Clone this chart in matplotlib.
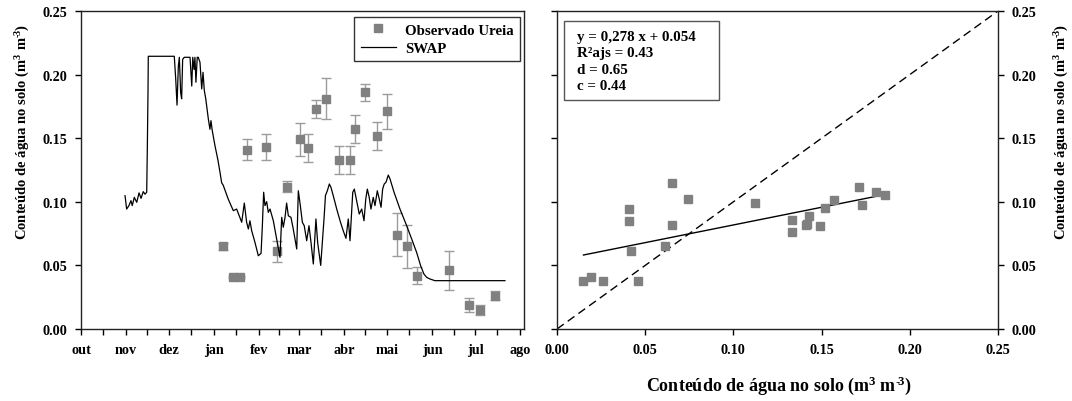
import matplotlib
matplotlib.use("Agg")
import matplotlib.pyplot as plt
from matplotlib.lines import Line2D
from matplotlib.patches import Rectangle
from matplotlib.ticker import FixedLocator, FormatStrFormatter

plt.rcParams['font.family'] = ['Liberation Serif', 'DejaVu Serif']
plt.rcParams['font.weight'] = 'bold'
plt.rcParams['mathtext.fontset'] = 'custom'
plt.rcParams['mathtext.rm'] = 'Liberation Serif:bold'
plt.rcParams['mathtext.it'] = 'Liberation Serif:bold'
plt.rcParams['mathtext.bf'] = 'Liberation Serif:bold'

# SWAP simulated soil water content, x in days since 1 October
swap_day = [30.5, 31.6, 33.2, 34.6, 35.5, 36.9, 38.6, 40.2, 41.6, 43.1, 44.3, 45.5,
            45.9, 46.4, 46.6, 64.6, 65.6, 66.5, 67.4, 68.1, 69.0, 69.7, 70.4, 71.5,
            75.5, 76.7, 77.4, 78.3, 78.9, 79.6, 80.5, 81.2, 82.4, 83.6, 84.5, 85.4,
            86.4, 88.2, 89.3, 90.0, 90.9, 92.8, 94.7, 96.3, 97.4, 98.5, 102.0, 105.5,
            107.8, 109.4, 111.3, 113.1, 114.7, 115.9, 117.0, 118.2, 120.5, 122.8,
            124.7, 125.6, 126.5, 127.4, 128.6, 129.7, 130.9, 133.2, 135.5, 137.8,
            139.0, 140.1, 141.3, 142.4, 143.6, 145.4, 147.0, 149.4, 150.5, 151.9,
            153.3, 154.6, 156.3, 157.9, 159.3, 160.9, 162.7, 163.9, 166.0, 168.3,
            169.3, 170.6, 172.0, 173.1, 174.7, 177.1, 179.4, 181.6, 183.5, 185.1,
            186.3, 188.2, 189.3, 190.9, 192.7, 194.4, 196.0, 197.2, 198.3, 199.6,
            200.8, 202.4, 203.6, 205.2, 206.6, 207.8, 208.9, 210.0, 211.2, 212.8,
            214.0, 216.8, 220.9, 225.1, 229.0, 232.5, 235.2, 237.5, 239.4, 241.7,
            245.1, 293.6]
swap_theta = [0.1048, 0.0943, 0.0970, 0.1009, 0.0970, 0.1035, 0.0996, 0.1070, 0.1027,
              0.1080, 0.1060, 0.1075, 0.1390, 0.1860, 0.2144, 0.2144, 0.1965, 0.1760,
              0.2065, 0.2136, 0.1860, 0.1810, 0.2120, 0.2136, 0.2136, 0.1910, 0.2136,
              0.2040, 0.2136, 0.1940, 0.2136, 0.2136, 0.2097, 0.1887, 0.2018, 0.1875,
              0.1810, 0.1650, 0.1570, 0.1638, 0.1560, 0.1440, 0.1336, 0.1230, 0.1150,
              0.1130, 0.1020, 0.0930, 0.0943, 0.0896, 0.0839, 0.0990, 0.0839, 0.0786,
              0.0851, 0.0773, 0.0680, 0.0576, 0.0595, 0.0812, 0.1075, 0.0970, 0.1001,
              0.0917, 0.0943, 0.0851, 0.0708, 0.0564, 0.0878, 0.0800, 0.0878, 0.0990,
              0.0890, 0.0878, 0.0786, 0.0629, 0.1087, 0.0970, 0.0839, 0.0812, 0.0694,
              0.0812, 0.0680, 0.0511, 0.0865, 0.0680, 0.0500, 0.0865, 0.1050, 0.1087,
              0.1140, 0.1114, 0.1048, 0.0943, 0.0851, 0.0773, 0.0713, 0.0865, 0.0694,
              0.1075, 0.1100, 0.1009, 0.0904, 0.0943, 0.0851, 0.1020, 0.1100, 0.1035,
              0.0943, 0.1035, 0.0970, 0.1087, 0.1020, 0.0957, 0.1100, 0.1140, 0.1153,
              0.1210, 0.1180, 0.1075, 0.0943, 0.0825, 0.0708, 0.0600, 0.0498, 0.0432,
              0.0406, 0.0393, 0.0380, 0.0380]

# Observed soil water content (urea treatment): sampling days, mean and SD
obs_day = [98, 105, 110, 115, 128, 136, 143, 152, 157, 163, 170, 179,
           186, 190, 197, 205, 212, 219, 226, 233, 255, 269, 276, 287]
obs_theta = [0.065, 0.041, 0.041, 0.141, 0.143, 0.061, 0.112, 0.149, 0.142, 0.173,
             0.181, 0.133, 0.133, 0.157, 0.186, 0.152, 0.171, 0.074, 0.065, 0.042,
             0.046, 0.019, 0.015, 0.026]
obs_sd = [0.003, 0.001, 0.001, 0.008, 0.010, 0.008, 0.004, 0.013, 0.011, 0.007,
          0.016, 0.011, 0.011, 0.011, 0.007, 0.011, 0.014, 0.017, 0.017, 0.0065,
          0.0155, 0.0055, 0.004, 0.0035]
# SWAP values on the sampling days
sim_at_obs = [0.1145, 0.094, 0.085, 0.082, 0.089, 0.065, 0.099, 0.081, 0.0825, 0.0975,
              0.1075, 0.086, 0.0765, 0.1017, 0.105, 0.095, 0.112, 0.102, 0.082, 0.061,
              0.038, 0.041, 0.0375, 0.0375]

month_labels = ['out', 'nov', 'dez', 'jan', 'fev', 'mar', 'abr', 'mai', 'jun', 'jul', 'ago']
month_start = [0, 31, 61, 92, 123, 151, 182, 212, 243, 273, 304]
mid_month = [15, 46, 76, 107, 137, 166, 197, 227, 258, 288]

fit_slope = 0.278
fit_intercept = 0.054
stats_lines = ['y = 0,278 x + 0.054', 'R\u00b2ajs = 0.43', 'd = 0.65', 'c = 0.44']

value_ticks = [0.00, 0.05, 0.10, 0.15, 0.20, 0.25]
ylab = 'Conte\u00fado de \u00e1gua no solo (m$^{3}$ m$^{\u2010\\!3}$)'

W, H = 1072, 402
fig = plt.figure(figsize=(W / 100, H / 100), dpi=100)
ax1 = fig.add_axes([81 / W, 72 / H, 443 / W, 318 / H])
ax2 = fig.add_axes([557 / W, 72 / H, 441 / W, 318 / H])

obs_color = '#808080'
err_color = '#9c9c9c'
tick_fs = 10.3

# ---- time series panel ----
ax1.errorbar(obs_day, obs_theta, yerr=obs_sd, fmt='none', ecolor=err_color,
             elinewidth=1.0, capsize=3.5, capthick=1.0, zorder=2)
ax1.plot(obs_day, obs_theta, 's', color=obs_color, ms=5.3, mec=obs_color, zorder=3)
ax1.plot(swap_day, swap_theta, '-', color='black', lw=0.9, zorder=4)
ax1.set_xlim(0, 306.8)
ax1.set_ylim(0, 0.25)
ax1.xaxis.set_major_locator(FixedLocator(month_start))
ax1.xaxis.set_minor_locator(FixedLocator(mid_month))
ax1.set_xticklabels(month_labels)
ax1.yaxis.set_major_locator(FixedLocator(value_ticks))
ax1.yaxis.set_major_formatter(FormatStrFormatter('%.2f'))
ax1.tick_params(axis='both', which='both', direction='out', length=4, width=1,
                labelsize=tick_fs, pad=6)

handles = [Line2D([], [], ls='none', marker='s', color=obs_color, ms=5.3),
           Line2D([], [], color='black', lw=0.9)]
leg = ax1.legend(handles, ['Observado Ureia', 'SWAP'], loc='upper right',
                 bbox_to_anchor=(520 / W, 1 - 18 / H), bbox_transform=fig.transFigure,
                 borderaxespad=0, fancybox=False, framealpha=1, edgecolor='#333333',
                 prop={'size': 10.7, 'weight': 'bold'}, handlelength=2.4,
                 handletextpad=0.6, labelspacing=0.32, borderpad=0.42)
leg.get_frame().set_linewidth(1.0)

# ---- observed vs simulated panel ----
ax2.plot([0, 0.25], [0, 0.25], '--', color='black', lw=1.0, dashes=(6, 3.5))
xfit = [min(obs_theta), max(obs_theta)]
ax2.plot(xfit, [fit_slope * v + fit_intercept for v in xfit], '-', color='black', lw=1.0)
ax2.plot(obs_theta, sim_at_obs, 's', color=obs_color, ms=5.5, mec=obs_color, zorder=3)
ax2.set_xlim(0, 0.25)
ax2.set_ylim(0, 0.25)
ax2.xaxis.set_major_locator(FixedLocator(value_ticks))
ax2.yaxis.set_major_locator(FixedLocator(value_ticks))
ax2.xaxis.set_major_formatter(FormatStrFormatter('%.2f'))
ax2.yaxis.set_major_formatter(FormatStrFormatter('%.2f'))
ax2.tick_params(axis='both', direction='out', length=4, width=1, labelsize=tick_fs, pad=6)
ax2.tick_params(axis='y', left=True, right=True, labelleft=False, labelright=True)

fig.patches.append(Rectangle((564 / W, 1 - 101 / H), 155 / W, 79 / H,
                             transform=fig.transFigure, fill=True, fc='white',
                             ec='#555555', lw=1.0, zorder=5))
for i, line in enumerate(stats_lines):
    fig.text(577 / W, 1 - (37 + 16.5 * i) / H, line, fontsize=10.8, fontweight='bold',
             ha='left', va='center', zorder=6)

for ax in (ax1, ax2):
    for s in ax.spines.values():
        s.set_linewidth(1.0)
        s.set_color('#222222')

fig.text(23 / W, 1 - 132 / H, ylab, rotation=90, ha='center', va='center',
         fontsize=10.5, fontweight='bold')
fig.text(1062 / W, 1 - 132 / H, ylab, rotation=90, ha='center', va='center',
         fontsize=10.5, fontweight='bold')
fig.text(779 / W, 1 - 386 / H, ylab, ha='center', va='center',
         fontsize=13, fontweight='bold')

fig.savefig('out.png', dpi=100)
